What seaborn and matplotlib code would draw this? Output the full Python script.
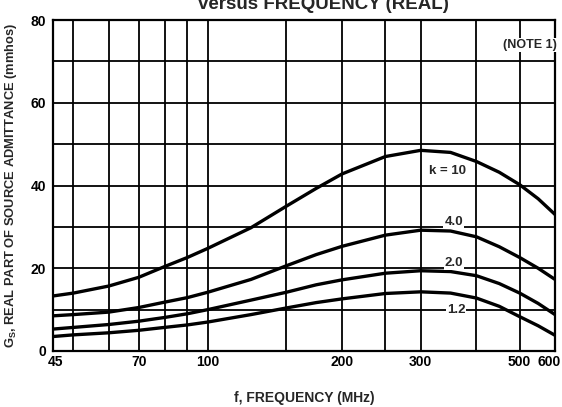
import numpy as np
import pandas as pd
import matplotlib
matplotlib.use("Agg")
import matplotlib.pyplot as plt
import matplotlib.transforms as mtransforms
import seaborn as sns

# ---- data ----
freq_mhz = [45, 50, 60, 70, 80, 90, 100, 125, 150, 175, 200, 250, 300, 350, 400, 450, 500, 550, 600]
gs_k10 = [13.3, 14.0, 15.7, 17.8, 20.4, 22.6, 24.8, 29.8, 35.0, 39.3, 42.8, 47.0, 48.5, 48.0, 45.8, 43.2, 40.2, 36.8, 33.0]
gs_k4 = [8.5, 8.8, 9.4, 10.5, 11.8, 12.9, 14.2, 17.3, 20.6, 23.3, 25.3, 28.0, 29.2, 29.0, 27.6, 25.2, 22.6, 20.0, 17.3]
gs_k2 = [5.3, 5.7, 6.4, 7.2, 8.1, 9.0, 10.0, 12.3, 14.2, 16.0, 17.2, 18.8, 19.4, 19.2, 18.2, 16.3, 14.0, 11.5, 8.8]
gs_k12 = [3.5, 3.9, 4.4, 5.0, 5.7, 6.3, 7.0, 8.8, 10.4, 11.7, 12.6, 13.9, 14.3, 14.0, 12.8, 10.8, 8.3, 6.1, 3.8]
k_labels = ["k = 10", "4.0", "2.0", "1.2"]

x_grid = [45, 50, 60, 70, 80, 90, 100, 150, 200, 250, 300, 400, 500, 600]
x_tick_labels = ["45", "", "", "70", "", "", "100", "", "200", "", "300", "", "500", "600"]
y_ticks = [0, 20, 40, 60, 80]
y_grid = [0, 10, 20, 30, 40, 50, 60, 70, 80]

sns.set_theme(style="white")
plt.rcParams["font.family"] = ["Liberation Sans", "DejaVu Sans"]
plt.rcParams["font.weight"] = "bold"
plt.rcParams["mathtext.default"] = "regular"

frames = []
for lab, vals in zip(k_labels, [gs_k10, gs_k4, gs_k2, gs_k12]):
    frames.append(pd.DataFrame({"f": freq_mhz, "Gs": vals, "k": lab}))
df = pd.concat(frames, ignore_index=True)

fig = plt.figure(figsize=(5.62, 4.07), dpi=100)
ax = fig.add_axes([53 / 562, 1 - 351 / 407, (555 - 53) / 562, (351 - 20) / 407])

sns.lineplot(data=df, x="f", y="Gs", hue="k", palette=["black"] * 4,
             linewidth=2.4, legend=False, ax=ax, sort=False)

ax.set_xscale("log")
ax.set_xlim(45, 600)
ax.set_ylim(0, 80)
ax.minorticks_off()
ax.set_xticks(x_grid)
ax.set_xticklabels(x_tick_labels)
ax.set_yticks(y_ticks)
ax.set_yticklabels([str(v) for v in y_ticks])
ax.tick_params(axis="both", length=0, labelsize=10, colors="black")
ax.tick_params(axis="x", pad=3)
ax.tick_params(axis="y", pad=5)
for t in ax.get_xticklabels() + ax.get_yticklabels():
    t.set_fontweight("bold")

# nudge the end labels like the reference
xl = ax.get_xticklabels()
xl[0].set_transform(xl[0].get_transform() + mtransforms.ScaledTranslation(3 / 100, 0, fig.dpi_scale_trans))
xl[-1].set_transform(xl[-1].get_transform() + mtransforms.ScaledTranslation(-6 / 100, 0, fig.dpi_scale_trans))

for xv in x_grid:
    ax.axvline(xv, color="black", linewidth=1.3, zorder=1)
for yv in y_grid:
    ax.axhline(yv, color="black", linewidth=1.3, zorder=1)
for s in ax.spines.values():
    s.set_color("black")
    s.set_linewidth(1.6)

ax.set_xlabel("f, FREQUENCY (MHz)", fontsize=10, fontweight="bold", labelpad=16)
ax.set_ylabel(r"G$_{S}$, REAL PART OF SOURCE ADMITTANCE (mmhos)",
              fontsize=9.3, fontweight="bold", labelpad=8)

box = dict(facecolor="white", edgecolor="none", pad=0.8)
ax.text(526, 74, "(NOTE 1)", ha="center", va="center", fontsize=9, fontweight="bold", bbox=box, zorder=3)
ax.text(345, 43.6, k_labels[0], ha="center", va="center", fontsize=9.5, fontweight="bold", bbox=box, zorder=3)
ax.text(356, 31.2, k_labels[1], ha="center", va="center", fontsize=9.5, fontweight="bold", bbox=box, zorder=3)
ax.text(356, 21.2, k_labels[2], ha="center", va="center", fontsize=9.5, fontweight="bold", bbox=box, zorder=3)
ax.text(360, 10.0, k_labels[3], ha="center", va="center", fontsize=9.5, fontweight="bold", bbox=box, zorder=3)

fig.text(323 / 562, 1 - 9 / 407, "versus FREQUENCY (REAL)", ha="center", va="baseline",
         fontsize=13.5, fontweight="bold")

fig.savefig("out.png", dpi=100)
